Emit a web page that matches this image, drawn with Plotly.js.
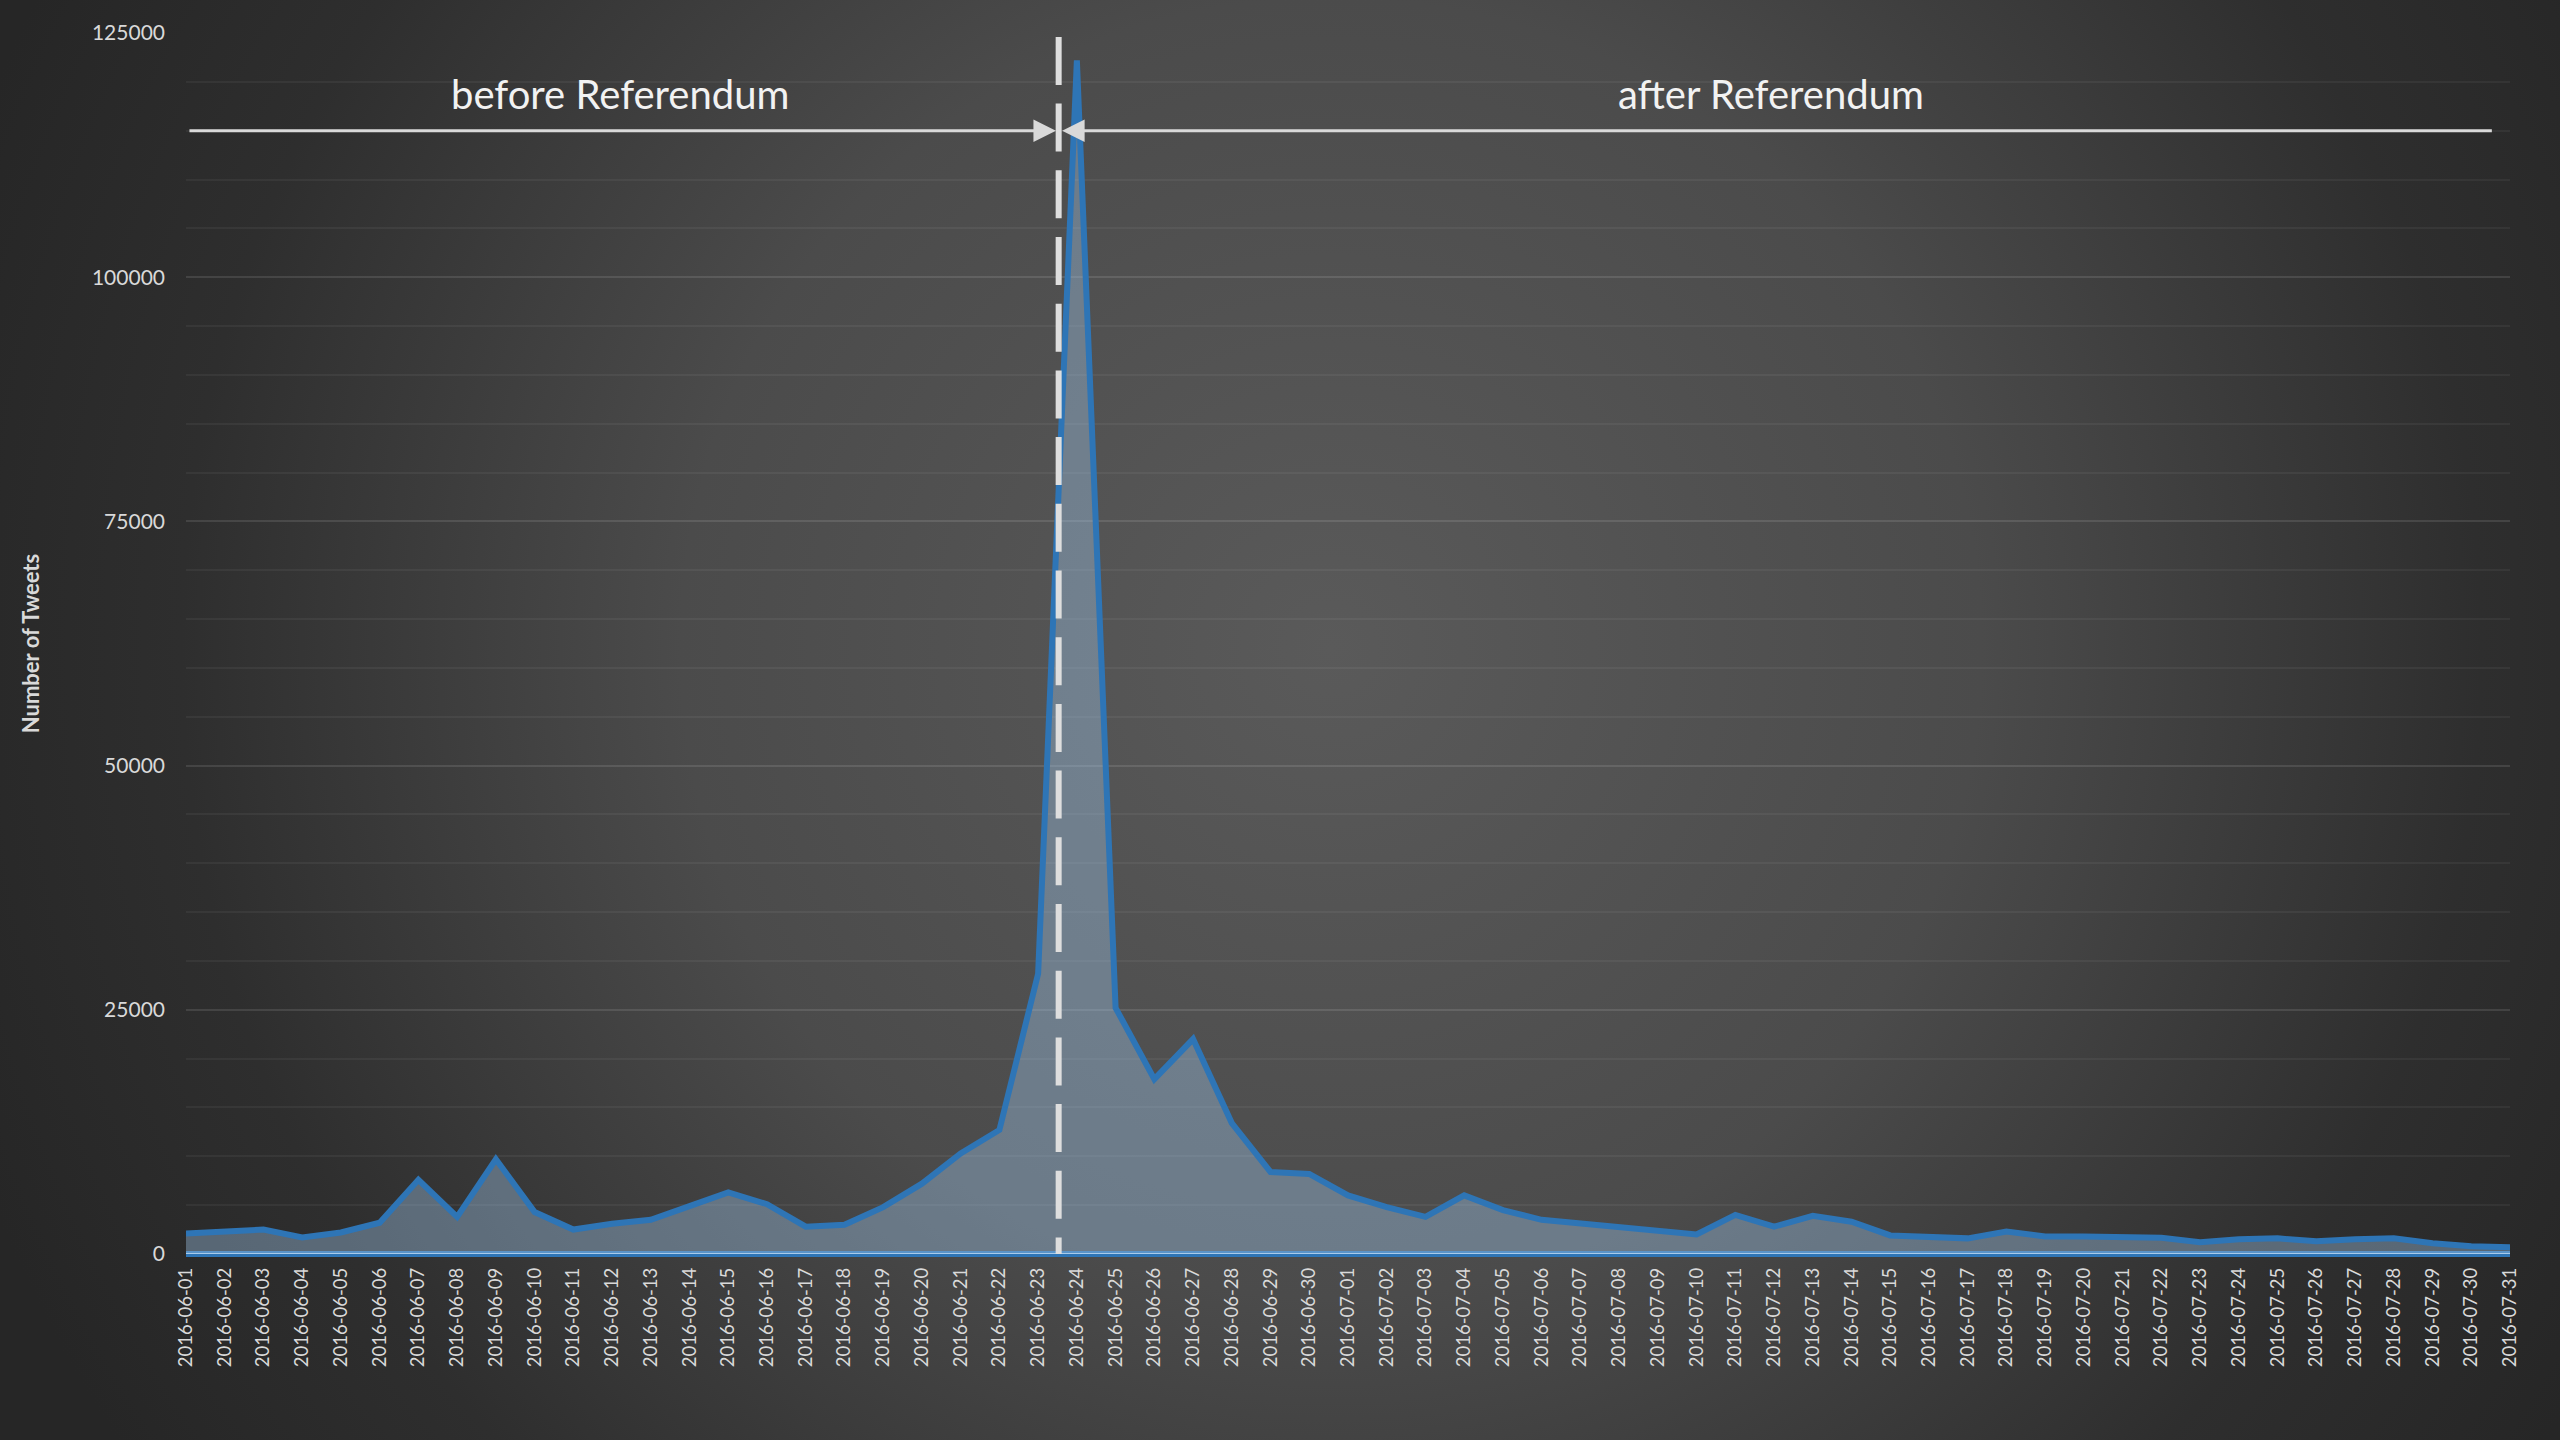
<!DOCTYPE html>
<html>
<head>
<meta charset="utf-8">
<script src="https://cdn.plot.ly/plotly-3.0.1.min.js"></script>
<style>
  html, body { margin: 0; padding: 0; width: 2560px; height: 1440px; overflow: hidden; }
  body { background: radial-gradient(circle at 52% 45%, #5a5a5a 0px, #4b4b4b 650px, #2e2e2e 1150px, #262626 1450px); }
  #chart { width: 2560px; height: 1440px; }
</style>
</head>
<body>
<div id="chart"></div>
<script>
const dates = [
  "2016-06-01","2016-06-02","2016-06-03","2016-06-04","2016-06-05","2016-06-06","2016-06-07","2016-06-08","2016-06-09","2016-06-10",
  "2016-06-11","2016-06-12","2016-06-13","2016-06-14","2016-06-15","2016-06-16","2016-06-17","2016-06-18","2016-06-19","2016-06-20",
  "2016-06-21","2016-06-22","2016-06-23","2016-06-24","2016-06-25","2016-06-26","2016-06-27","2016-06-28","2016-06-29","2016-06-30",
  "2016-07-01","2016-07-02","2016-07-03","2016-07-04","2016-07-05","2016-07-06","2016-07-07","2016-07-08","2016-07-09","2016-07-10",
  "2016-07-11","2016-07-12","2016-07-13","2016-07-14","2016-07-15","2016-07-16","2016-07-17","2016-07-18","2016-07-19","2016-07-20",
  "2016-07-21","2016-07-22","2016-07-23","2016-07-24","2016-07-25","2016-07-26","2016-07-27","2016-07-28","2016-07-29","2016-07-30",
  "2016-07-31"
];

const tweets = [
  2100, 2300, 2500, 1700, 2200, 3200, 7600, 3800, 9700, 4300,
  2500, 3100, 3500, 4900, 6300, 5100, 2800, 3000, 4800, 7200,
  10300, 12700, 28700, 122200, 25200, 17900, 22000, 13400, 8400, 8200,
  6000, 4800, 3800, 6000, 4500, 3500, 3100, 2800, 2400, 2000,
  4000, 2800, 3900, 3300, 1900, 1700, 1600, 2300, 1800, 1780,
  1750, 1670, 1200, 1500, 1600, 1300, 1500, 1600, 1100, 800,
  700
];

const periodLabels = ["before Referendum", "after Referendum"];
const yTitle = "Number of Tweets";

const FONT = "Lato, 'Open Sans', sans-serif";
const LIGHT = "#d9d9d9";

const trace = {
  type: "scatter",
  mode: "lines",
  x: dates,
  y: tweets,
  fill: "tozeroy",
  fillcolor: "rgba(157,195,230,0.40)",
  line: { color: "#2e75b6", width: 6, shape: "linear" },
  hoverinfo: "x+y"
};

const lastIdx = dates.length - 1;
const splitPos = 22.53;

const layout = {
  width: 2560,
  height: 1440,
  margin: { l: 186, r: 50, t: 33, b: 186 },
  paper_bgcolor: "rgba(0,0,0,0)",
  plot_bgcolor: "rgba(0,0,0,0)",
  showlegend: false,
  font: { family: FONT, color: LIGHT },
  xaxis: {
    type: "category",
    range: [0, lastIdx],
    tickangle: -90,
    ticks: "",
    ticklabelstandoff: 9,
    tickfont: { family: FONT, size: 18.5, color: LIGHT },
    showgrid: false,
    showline: false,
    zeroline: false,
    fixedrange: true
  },
  yaxis: {
    range: [0, 125000],
    dtick: 25000,
    tick0: 0,
    tickformat: "d",
    ticks: "",
    ticklabelstandoff: 20,
    tickfont: { family: FONT, size: 21, color: LIGHT },
    showgrid: true,
    gridcolor: "rgba(255,255,255,0.11)",
    gridwidth: 2,
    minor: { dtick: 5000, showgrid: true, gridcolor: "rgba(255,255,255,0.05)", gridwidth: 2 },
    zeroline: true,
    zerolinecolor: "#2e75b6",
    zerolinewidth: 6,
    showline: false,
    title: { text: yTitle, font: { family: FONT, size: 22, color: LIGHT, weight: "bold" }, standoff: 46 },
    fixedrange: true
  },
  shapes: [
    {
      type: "line", xref: "x", yref: "y",
      x0: 0, x1: lastIdx, y0: 0, y1: 0,
      line: { color: "#a9cbea", width: 2 },
      layer: "above"
    },
    {
      type: "line", xref: "x", yref: "y",
      x0: splitPos, x1: splitPos, y0: 124600, y1: 0,
      line: { color: "#dedede", width: 6, dash: "48px,18.7px" },
      layer: "above"
    }
  ],
  annotations: [
    {
      xref: "x", yref: "y", axref: "x", ayref: "y",
      x: 22.46, y: 115000, ax: 0.05, ay: 115000,
      text: "", showarrow: true,
      arrowhead: 2, arrowsize: 1.5, arrowwidth: 3, arrowcolor: LIGHT, standoff: 0, startstandoff: 0
    },
    {
      xref: "x", yref: "y", axref: "x", ayref: "y",
      x: 22.62, y: 115000, ax: 59.57, ay: 115000,
      text: "", showarrow: true,
      arrowhead: 2, arrowsize: 1.5, arrowwidth: 3, arrowcolor: LIGHT, standoff: 0, startstandoff: 0
    },
    {
      xref: "x", yref: "y", x: 11.21, y: 118800,
      xanchor: "center", yanchor: "middle",
      text: periodLabels[0], showarrow: false,
      font: { family: FONT, size: 40, color: "#f2f2f2" }
    },
    {
      xref: "x", yref: "y", x: 40.92, y: 118800,
      xanchor: "center", yanchor: "middle",
      text: periodLabels[1], showarrow: false,
      font: { family: FONT, size: 40, color: "#f2f2f2" }
    }
  ]
};

Plotly.newPlot("chart", [trace], layout, { displayModeBar: false, responsive: false });
</script>
</body>
</html>
